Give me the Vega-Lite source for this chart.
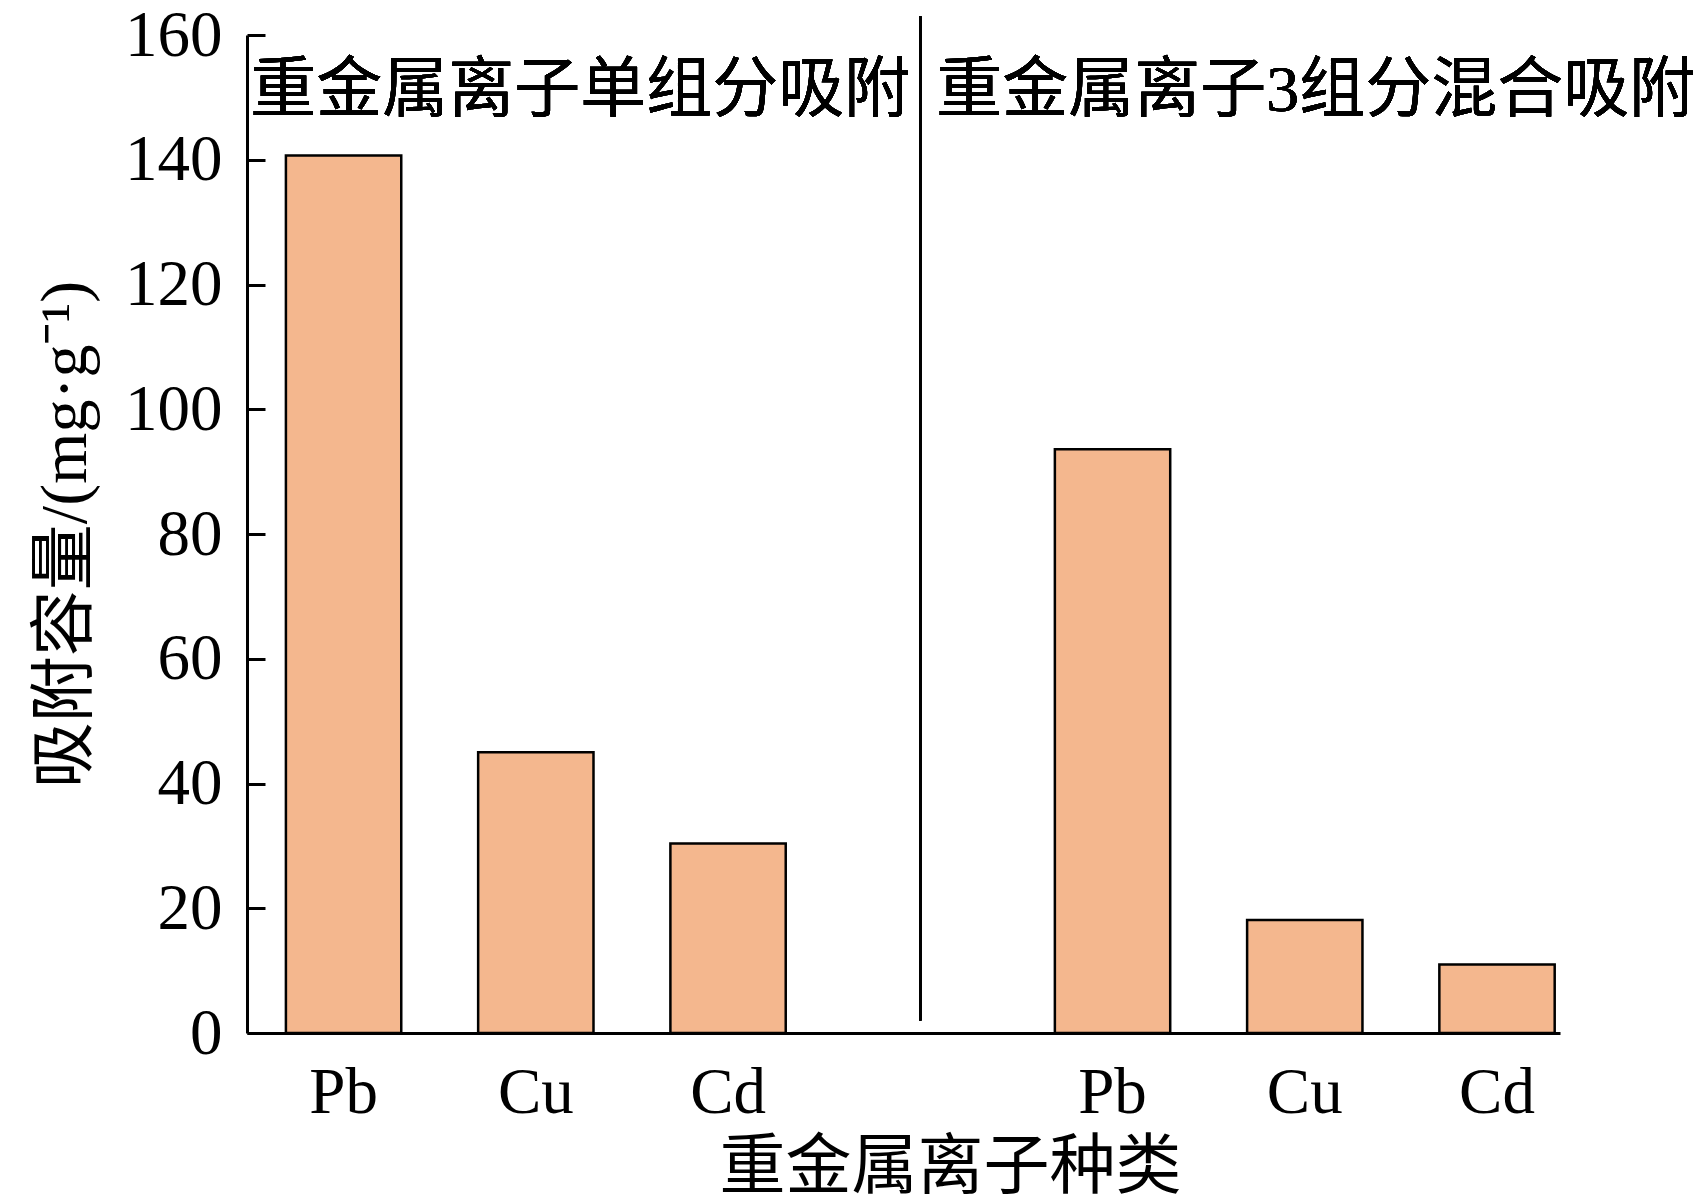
{
  "$schema": "https://vega.github.io/schema/vega-lite/v6.json",
  "width": 1313,
  "height": 998,
  "autosize": "none",
  "padding": {"left": 247, "top": 35, "right": 142, "bottom": 170},
  "background": "white",
  "config": {"view": {"stroke": null}, "font": "Liberation Serif, Noto Sans CJK SC"},
  "data": {
    "values": [
      {"group": "重金属离子单组分吸附", "metal": "Pb", "key": "Pb1", "value": 140.7},
      {"group": "重金属离子单组分吸附", "metal": "Cu", "key": "Cu1", "value": 45.0},
      {"group": "重金属离子单组分吸附", "metal": "Cd", "key": "Cd1", "value": 30.4},
      {"group": "重金属离子3组分混合吸附", "metal": "Pb", "key": "Pb3", "value": 93.6},
      {"group": "重金属离子3组分混合吸附", "metal": "Cu", "key": "Cu3", "value": 18.1},
      {"group": "重金属离子3组分混合吸附", "metal": "Cd", "key": "Cd3", "value": 11.0}
    ]
  },
  "layer": [
    {
      "mark": {"type": "bar", "fill": "#F4B78E", "stroke": "black", "strokeWidth": 2.5},
      "encoding": {
        "x": {
          "field": "key",
          "type": "nominal",
          "sort": null,
          "scale": {"domain": ["Pb1", "Cu1", "Cd1", "gap", "Pb3", "Cu3", "Cd3"], "paddingInner": 0.4, "paddingOuter": 0.115, "align": 0.88},
          "axis": {
            "title": "重金属离子种类",
            "titleFont": "Liberation Serif, Noto Sans CJK SC",
            "titleFontSize": 66,
            "titleFontWeight": "normal",
            "titleColor": "black",
            "titleX": 703,
            "titlePadding": 10,
            "labelExpr": "datum.value == 'gap' ? '' : substring(datum.value, 0, 2)",
            "labelAngle": 0,
            "labelFont": "Liberation Serif",
            "labelFontSize": 65,
            "labelColor": "black",
            "labelPadding": 28,
            "ticks": false,
            "domainColor": "black",
            "domainWidth": 3
          }
        },
        "y": {
          "field": "value",
          "type": "quantitative",
          "scale": {"domain": [0, 160], "nice": false},
          "axis": {
            "title": "吸附容量/(mg·g⁻¹)",
            "titleFont": "Liberation Serif, Noto Sans CJK SC",
            "titleFontSize": 66,
            "titleFontWeight": "normal",
            "titleColor": "black",
            "titlePadding": 25,
            "values": [0, 20, 40, 60, 80, 100, 120, 140, 160],
            "grid": false,
            "labelFont": "Liberation Serif",
            "labelFontSize": 65,
            "labelColor": "black",
            "labelPadding": 43,
            "tickSize": -18,
            "tickWidth": 3,
            "tickColor": "black",
            "domainColor": "black",
            "domainWidth": 3
          }
        }
      }
    },
    {
      "mark": {"type": "rule", "stroke": "black", "strokeWidth": 2.5},
      "encoding": {
        "x": {"datum": "gap", "type": "nominal"},
        "y": {"datum": 2, "type": "quantitative"},
        "y2": {"datum": 163}
      }
    },
    {
      "mark": {"type": "text", "align": "right", "baseline": "middle", "dx": -10, "fontSize": 66, "font": "Liberation Serif, Noto Sans CJK SC", "color": "black"},
      "encoding": {
        "x": {"datum": "gap", "type": "nominal"},
        "y": {"datum": 151.1, "type": "quantitative"},
        "text": {"value": "重金属离子单组分吸附"}
      }
    },
    {
      "mark": {"type": "text", "align": "left", "baseline": "middle", "dx": 16, "fontSize": 66, "font": "Liberation Serif, Noto Sans CJK SC", "color": "black"},
      "encoding": {
        "x": {"datum": "gap", "type": "nominal"},
        "y": {"datum": 151.1, "type": "quantitative"},
        "text": {"value": "重金属离子3组分混合吸附"}
      }
    }
  ]
}
